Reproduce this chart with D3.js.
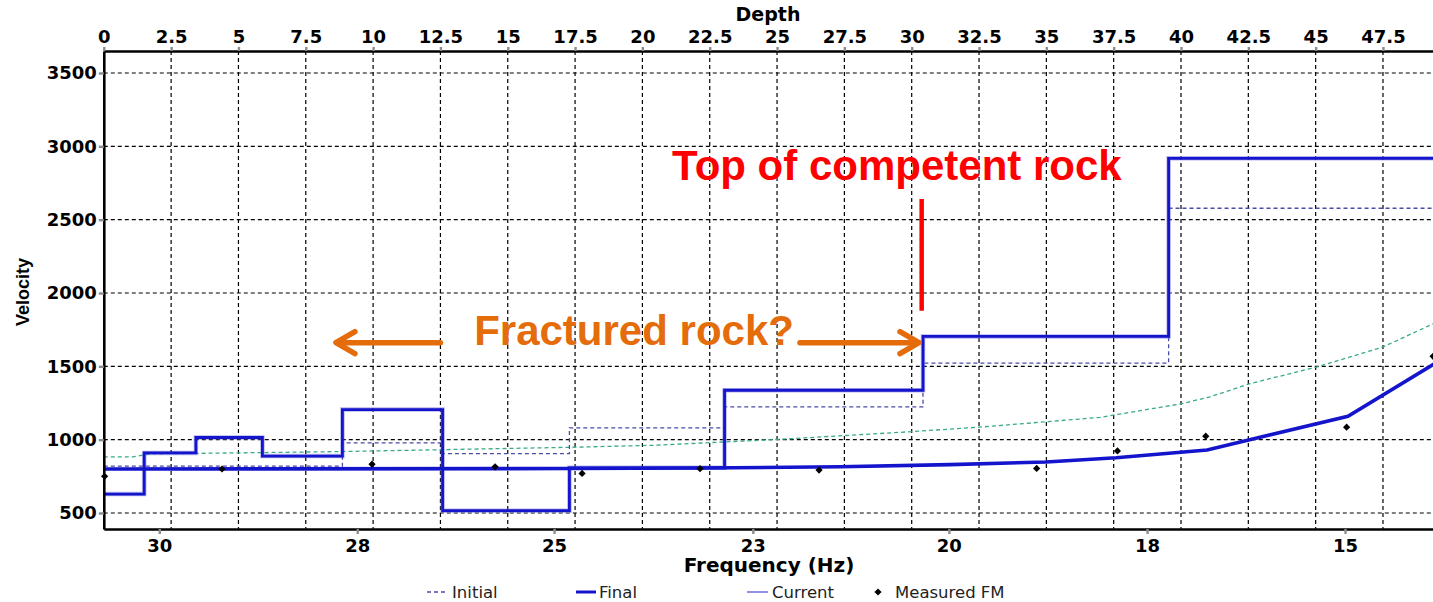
<!DOCTYPE html>
<html><head><meta charset="utf-8">
<script src="https://cdn.jsdelivr.net/npm/d3@7/dist/d3.min.js"></script>
<style>body{margin:0;background:#fff;overflow:hidden} svg{display:block}</style>
</head><body>
<svg id="chart" width="1433" height="602"></svg>
<script>
// ---------- data ----------
const depthTicks = [0, 2.5, 5, 7.5, 10, 12.5, 15, 17.5, 20, 22.5, 25, 27.5, 30, 32.5, 35, 37.5, 40, 42.5, 45, 47.5];
const velocityTicks = [500, 1000, 1500, 2000, 2500, 3000, 3500];
const freqTickLabels = ["30", "28", "25", "23", "20", "18", "15"];
const freqTickDepths = [2.06, 9.41, 16.72, 24.10, 31.38, 38.74, 46.09];

// layered models (velocity vs depth), each layer from its top depth to the next one
const layerTops       = [0, 1.50, 3.42, 5.89, 8.86, 12.58, 17.29, 23.05, 30.42, 39.54];
const initialVelocity = [820, 820, 820, 820, 978, 905, 1080, 1223, 1522, 2578];
const finalVelocity   = [629, 910, 1015, 888, 1205, 516, 808, 1337, 1704, 2918];
const currentVelocity = [629, 910, 1015, 888, 1205, 516, 808, 1337, 1704, 2918];

// dispersion curves (plotted on the shared horizontal position, in depth units)
const finalCurvePos = [0, 17.31, 22.14, 27.34, 31.42, 34.99, 37.59, 40.97, 46.20, 49.43];
const finalCurveVel = [800, 803, 807, 815, 830, 848, 877, 930, 1160, 1520];
const initialCurvePos = [0, 1.08, 1.72, 8.51, 17.31, 20.47, 25.15, 29.57, 32.50, 36.99, 39.96, 41.08, 42.56, 45.05, 47.50, 49.43];
const initialCurveVel = [883, 883, 903, 918, 948, 962, 1003, 1050, 1085, 1152, 1243, 1292, 1382, 1496, 1632, 1796];

// measured FM points
const measuredPos = [0.03, 4.39, 9.96, 14.53, 17.76, 22.14, 26.56, 34.64, 37.64, 40.92, 46.15, 49.36];
const measuredVel = [750, 800, 833, 815, 770, 802, 793, 804, 923, 1024, 1085, 1568];

const legendLabels = ["Initial", "Final", "Current", "Measured FM"];

// annotations (in data units)
const competentLabel = {text: "Top of competent rock", depth: 29.45, vel: 2770};
const competentMark = {depth: 30.37, v0: 1879, v1: 2641};
const fracturedLabel = {text: "Fractured rock?", depth: 19.69, vel: 1645};
const fracturedArrows = [{from: 12.5, to: 8.62, vel: 1661}, {from: 25.85, to: 30.27, vel: 1661}];

// ---------- chart ----------
const svg = d3.select("#chart");
const L = 103.8, T = 51, B = 529;
const xMax = 49.6;
const x = d3.scaleLinear().domain([0, xMax]).range([L, L + xMax * 26.93]);
const y = d3.scaleLinear().domain([391, 3650]).range([B, T]);
const R = x(xMax);

const tickFont = "DejaVu Sans";
const cFinal = "#1414cc", cInitial = "#4b4baa", cCurrent = "#6c6cdc", cGreen = "#3aa98a";

svg.append("defs").append("clipPath").attr("id", "plotClip")
  .append("rect").attr("x", L).attr("y", T).attr("width", R - L).attr("height", B - T);

// grid
const grid = svg.append("g").attr("stroke", "#000").attr("stroke-width", 1.2).attr("stroke-dasharray", "4,3");
grid.selectAll(".vg").data(depthTicks.filter(d => d > 0)).join("line")
  .attr("x1", d => x(d)).attr("x2", d => x(d)).attr("y1", T).attr("y2", B);
grid.selectAll(".hg").data(velocityTicks).join("line")
  .attr("x1", L).attr("x2", R).attr("y1", d => y(d)).attr("y2", d => y(d));

const plot = svg.append("g").attr("clip-path", "url(#plotClip)");

function stepPoints(vals) {
  const pts = layerTops.map((d, i) => [d, vals[i]]);
  pts.push([xMax, vals[vals.length - 1]]);
  return pts;
}
const stepLine = d3.line().x(d => x(d[0])).y(d => y(d[1])).curve(d3.curveStepAfter);
const line = d3.line().x(d => x(d[0])).y(d => y(d[1]));

// green dashed initial dispersion curve
plot.append("path").datum(initialCurvePos.map((p, i) => [p, initialCurveVel[i]]))
  .attr("d", line).attr("fill", "none").attr("stroke", cGreen).attr("stroke-width", 1.3).attr("stroke-dasharray", "4,3");
// initial model
plot.append("path").datum(stepPoints(initialVelocity))
  .attr("d", stepLine).attr("fill", "none").attr("stroke", cInitial).attr("stroke-width", 1.3).attr("stroke-dasharray", "4,3");
// current model
plot.append("path").datum(stepPoints(currentVelocity))
  .attr("d", stepLine).attr("fill", "none").attr("stroke", cCurrent).attr("stroke-width", 4.5).attr("opacity", 0.5);
// final model
plot.append("path").datum(stepPoints(finalVelocity))
  .attr("d", stepLine).attr("fill", "none").attr("stroke", cFinal).attr("stroke-width", 2.8);
// final dispersion curve
plot.append("path").datum(finalCurvePos.map((p, i) => [p, finalCurveVel[i]]))
  .attr("d", line).attr("fill", "none").attr("stroke", cFinal).attr("stroke-width", 3.6);
// measured points (square rotated 45° = diamond)
const diamond = d3.symbol().type(d3.symbolSquare).size(26);
svg.append("g").selectAll("path").data(measuredPos.map((p, i) => [p, measuredVel[i]])).join("path")
  .attr("d", diamond).attr("transform", d => `translate(${x(d[0])},${y(d[1])}) rotate(45)`).attr("fill", "#000");

// axes
function styleAxis(g) {
  g.attr("font-family", tickFont).attr("font-weight", "bold").attr("font-size", 18);
  g.selectAll(".domain").attr("stroke", "#000").attr("stroke-width", 2.6);
  g.selectAll(".tick line").attr("stroke", "#8c8c8c").attr("stroke-width", 2.4);
  g.selectAll(".tick text").attr("fill", "#000");
}
svg.append("g").attr("transform", `translate(0,${T})`)
  .call(d3.axisTop(x).tickValues(depthTicks).tickSize(4).tickSizeOuter(0).tickPadding(4)
    .tickFormat(d => Number.isInteger(d) ? String(d) : d.toFixed(1)))
  .call(styleAxis);
svg.append("g").attr("transform", `translate(${L},0)`)
  .call(d3.axisLeft(y).tickValues(velocityTicks).tickSize(5).tickSizeOuter(0).tickPadding(2)
    .tickFormat(d => String(d)))
  .call(styleAxis);
svg.append("g").attr("transform", `translate(0,${B})`)
  .call(d3.axisBottom(x).tickValues(freqTickDepths).tickSize(5).tickSizeOuter(0).tickPadding(5)
    .tickFormat((d, i) => freqTickLabels[i]))
  .call(styleAxis);

// axis titles
svg.append("text").attr("x", 768).attr("y", 21).attr("text-anchor", "middle")
  .attr("font-family", tickFont).attr("font-weight", "bold").attr("font-size", 19).text("Depth");
svg.append("text").attr("x", 769).attr("y", 572).attr("text-anchor", "middle")
  .attr("font-family", tickFont).attr("font-weight", "bold").attr("font-size", 20).text("Frequency (Hz)");
svg.append("text").attr("transform", "translate(29,292) rotate(-90)").attr("text-anchor", "middle")
  .attr("font-family", "Liberation Sans, Arial, sans-serif").attr("font-weight", "bold").attr("font-size", 18).text("Velocity");

// legend
const lg = svg.append("g").attr("font-family", tickFont).attr("font-size", 16.5).attr("fill", "#222");
const ly = 592;
const legendX = [427, 576, 747, 878];
lg.append("line").attr("x1", legendX[0]).attr("x2", legendX[0] + 21).attr("y1", ly).attr("y2", ly)
  .attr("stroke", cInitial).attr("stroke-width", 1.3).attr("stroke-dasharray", "4,3");
lg.append("line").attr("x1", legendX[1]).attr("x2", legendX[1] + 20).attr("y1", ly).attr("y2", ly)
  .attr("stroke", cFinal).attr("stroke-width", 3);
lg.append("line").attr("x1", legendX[2]).attr("x2", legendX[2] + 21).attr("y1", ly).attr("y2", ly)
  .attr("stroke", cCurrent).attr("stroke-width", 1.5);
lg.append("path").attr("d", diamond).attr("transform", `translate(${legendX[3]},${ly}) rotate(45)`).attr("fill", "#000");
const textX = [452, 599, 772, 895];
lg.selectAll("text").data(legendLabels).join("text")
  .attr("x", (d, i) => textX[i]).attr("y", 598).text(d => d);

// annotations
svg.append("text").attr("x", x(competentLabel.depth)).attr("y", y(competentLabel.vel)).attr("text-anchor", "middle")
  .attr("font-family", "Liberation Sans, Arial, sans-serif").attr("font-weight", "bold").attr("font-size", 42)
  .attr("fill", "#ff0000").text(competentLabel.text);
svg.append("line").attr("x1", x(competentMark.depth)).attr("x2", x(competentMark.depth))
  .attr("y1", y(competentMark.v0)).attr("y2", y(competentMark.v1)).attr("stroke", "#ff0000").attr("stroke-width", 4.5);

const orange = "#e46c0a";
svg.append("text").attr("x", x(fracturedLabel.depth)).attr("y", y(fracturedLabel.vel)).attr("text-anchor", "middle")
  .attr("font-family", "Liberation Sans, Arial, sans-serif").attr("font-weight", "bold").attr("font-size", 42)
  .attr("fill", orange).text(fracturedLabel.text);
const ag = svg.append("g").attr("stroke", orange).attr("stroke-width", 5.5).attr("stroke-linecap", "round")
  .attr("stroke-linejoin", "round").attr("fill", "none");
fracturedArrows.forEach(a => {
  const x0 = x(a.from), x1 = x(a.to), yy = y(a.vel), dir = Math.sign(x1 - x0);
  ag.append("line").attr("x1", x0).attr("x2", x1 - dir * 2).attr("y1", yy).attr("y2", yy);
  ag.append("path").attr("d", `M${x1 - dir * 19},${yy - 11} L${x1},${yy} L${x1 - dir * 19},${yy + 11}`);
});
</script>
</body></html>
